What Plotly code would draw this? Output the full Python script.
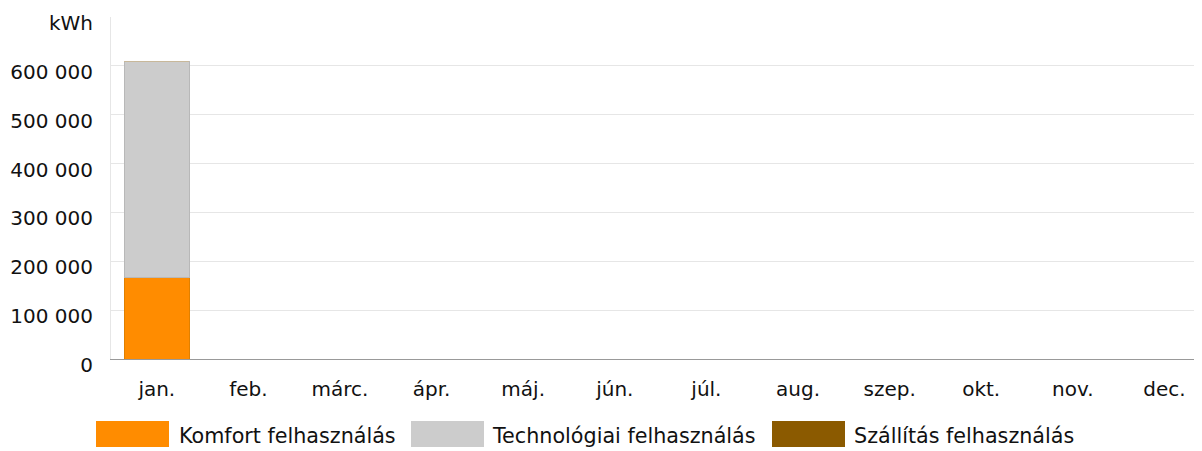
import plotly.graph_objects as go

months = ["jan.", "feb.", "márc.", "ápr.", "máj.", "jún.", "júl.", "aug.", "szep.", "okt.", "nov.", "dec."]
series_names = ["Komfort felhasználás", "Technológiai felhasználás", "Szállítás felhasználás"]
komfort = [166000, None, None, None, None, None, None, None, None, None, None, None]
technologiai = [442000, None, None, None, None, None, None, None, None, None, None, None]
szallitas = [0, None, None, None, None, None, None, None, None, None, None, None]
y_tick_values = [0, 100000, 200000, 300000, 400000, 500000, 600000, 700000]
y_unit = "kWh"

colors = ["#FF8C00", "#CCCCCC", "#8B5A00"]
line_colors = ["#E08000", "#B8B8B8", "#C8B89A"]
FONT = "DejaVu Sans"

fig = go.Figure()
for name, vals, c, lc in zip(series_names, [komfort, technologiai, szallitas], colors, line_colors):
    fig.add_trace(go.Bar(
        x=months, y=vals, name=name, width=0.71,
        marker=dict(color=c, line=dict(color=lc, width=1)),
        showlegend=False,
    ))

ticktext = [f"{v:,}".replace(",", " ") for v in y_tick_values[:-1]] + [y_unit]

# page body has an 8px margin: work in figure coordinates shifted by 8px
OFF = 8
FW, FH = 1202 - OFF, 451 - OFF
L, R, T, B = 111 - OFF, 1202 - OFF, 17 - OFF, 359 - OFF
W, H = R - L, B - T
BAND = 91.6  # pixel width of one month band in the reference (plot runs past the right edge)
x_range = [-0.5, -0.5 + W / BAND]

def px_x(p):
    return (p - OFF - L) / W

def px_y(p):
    return (B - (p - OFF)) / H

swatch_x = [(96, 169), (411, 484), (772, 845)]
text_x = [178, 491, 853]
shapes = []
annotations = []
for (x0, x1), tx, name, c in zip(swatch_x, text_x, series_names, colors):
    shapes.append(dict(type="rect", xref="paper", yref="paper",
                       x0=px_x(x0), x1=px_x(x1), y0=px_y(421), y1=px_y(447),
                       fillcolor=c, line=dict(width=0)))
    annotations.append(dict(xref="paper", yref="paper", x=px_x(tx - 1), y=px_y(436),
                            xanchor="left", yanchor="middle", text=name, showarrow=False,
                            font=dict(family=FONT, size=20.7, color="#111111")))

fig.update_layout(
    barmode="stack",
    width=FW, height=FH,
    margin=dict(l=L, r=FW - R, t=T, b=FH - B, autoexpand=False),
    paper_bgcolor="white", plot_bgcolor="white",
    font=dict(family=FONT, size=20, color="#111111"),
    shapes=shapes, annotations=annotations,
    xaxis=dict(range=x_range, showgrid=False, showline=True, linecolor="#999999", linewidth=1,
               ticks="", ticklabelstandoff=12, zeroline=False, automargin=False),
    yaxis=dict(range=[0, 700000], tickvals=y_tick_values, ticktext=ticktext,
               showgrid=True, gridcolor="#E6E6E6", gridwidth=1, zeroline=False,
               showline=True, linecolor="#E6E6E6", ticks="", ticklabelstandoff=13,
               ticklabelshift=6, automargin=False),
)

fig.write_html("out.html")
